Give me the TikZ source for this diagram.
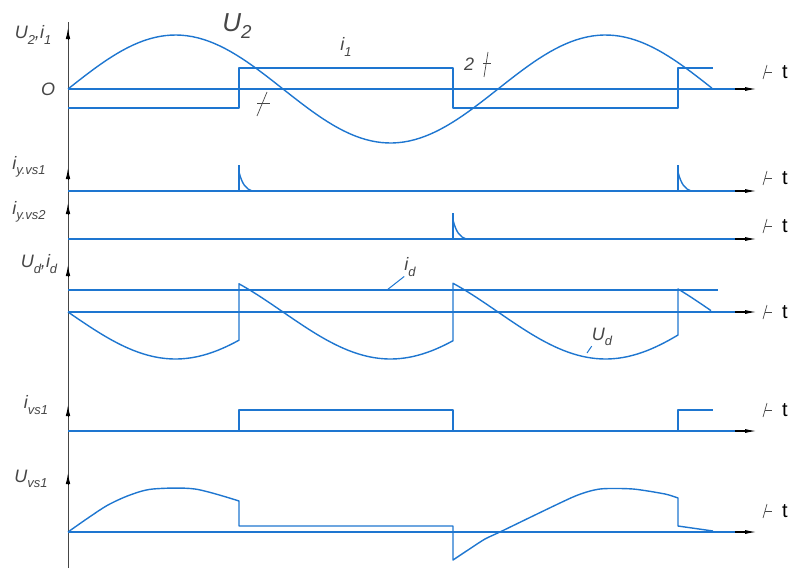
\documentclass[tikz,border=0pt]{standalone}
\usepackage{fontspec}
\setmainfont{Liberation Sans}
\usetikzlibrary{arrows.meta}

\definecolor{wave}{RGB}{30,118,208}
\definecolor{ink}{RGB}{70,70,70}

\tikzset{
	sig/.style={wave, line width=1.4pt, line join=round},
	axis/.style={ink, line width=1pt},
	lbl/.style={ink, font=\fontsize{18}{18}\selectfont\itshape, inner sep=0pt},
	tlbl/.style={black, font=\fontsize{20}{20}\selectfont, inner sep=0pt},
	glyph/.style={ink, line width=0.7pt},
	uptip/.style={-{Latex[length=11pt,width=4.5pt]}, black, line width=1pt},
	rtip/.style={-{Latex[length=12pt,width=4pt]}, black, line width=1.2pt}
}

% phase of the supply voltage at pixel column x (period 430)
\newcommand{\wsin}[1]{sin(0.837209*(#1-68))}
% lowered index in the label font
\newcommand{\lo}[1]{\raisebox{-0.3em}{\scalebox{0.72}{#1}}}

\begin{document}
\begin{tikzpicture}[x=1pt, y=-1pt]

	\useasboundingbox (0,0) rectangle (794,570);

	% Common vertical axis with one arrow per graph
	\draw[axis] (68,568) -- (68,22);
	\foreach \ya in {28,168,203,265,405,473}
		\draw[uptip] (68,\ya+12) -- (68,\ya);

	% Time axes
	\foreach \yb/\yt in {89/72, 191/178, 239/226, 312/312, 431/410, 532/511}{
		\draw[sig] (68,\yb) -- (735,\yb);
		\draw[rtip] (735,\yb) -- (757,\yb);
		\node[tlbl] (t\yb) at (785,\yt) {t};
		\draw[glyph] (763,\yt+7) -- (767,\yt-7);
		\draw[glyph] (765,\yt) -- (772,\yt);
	}

	% Supply voltage U2 and primary current i1
	\draw[sig] plot[domain=68:712, samples=120] (\x,{89-54*\wsin{\x}});
	\draw[sig] (68,108) -- (239,108) -- (239,68) -- (453,68) -- (453,108)
		-- (678,108) -- (678,68) -- (713,68);
	\node[lbl] (lblUi) at (33,35) {U\lo{2},i\lo{1}};
	\node[lbl] (lblzero) at (48,89) {O};
	\node[lbl, font=\fontsize{26}{26}\selectfont\itshape] (lblUtwo) at (237,26) {U\lo{2}};
	\node[lbl] (lblione) at (346,47) {i\lo{1}};
	\node[lbl] (lbltwo) at (469,64) {2};
	\draw[glyph] (257,116) -- (267,92);
	\draw[glyph] (257,103) -- (270,103);
	\draw[glyph] (484,77) -- (488,52);
	\draw[glyph] (483,63) -- (491,63);

	% Gate pulses
	\foreach \sx/\sb in {239/191, 678/191, 453/239}{
		\draw[sig] (\sx,\sb) -- (\sx,\sb-26);
		\draw[sig] (\sx,\sb-19) .. controls (\sx+3,\sb-7) and (\sx+7,\sb-2) .. (\sx+13,\sb);
	}
	\node[lbl] (lblgone) at (29,167) {i\lo{y.vs1}};
	\node[lbl] (lblgtwo) at (29,212) {i\lo{y.vs2}};

	% Rectified voltage Ud and load current id
	\draw[sig] (68,290) -- (718,290);
	\draw[sig] plot[domain=68:239, samples=40] (\x,{312+47*\wsin{\x}})
		-- plot[domain=239:453, samples=50] (\x,{312-47*\wsin{\x}})
		-- plot[domain=453:678, samples=50] (\x,{312+47*\wsin{\x}})
		-- plot[domain=678:711, samples=10] (\x,{312-47*\wsin{\x}});
	\node[lbl] (lblUdid) at (39,264) {U\lo{d},i\lo{d}};
	\node[lbl] (lblid) at (410,267) {i\lo{d}};
	\node[lbl] (lblUd) at (602,337) {U\lo{d}};
	\coordinate (onid) at (387,290);
	\coordinate (onUd) at (587,353);
	\draw[wave, line width=1pt] (onid) -- (lblid.south west);
	\draw[wave, line width=1pt] (onUd) -- (lblUd.south west);

	% Thyristor current
	\draw[sig] (239,431) -- (239,410) -- (453,410) -- (453,431);
	\draw[sig] (678,431) -- (678,410) -- (713,410);
	\node[lbl] (lblivs) at (36,405) {i\lo{vs1}};

	% Thyristor voltage
	\draw[sig] plot[smooth, tension=0.5] coordinates {
		(68,532)
		(88,518)
		(108,505)
		(130,495)
		(153,489)
		(195,489)
		(239,501)
	} -- (239,526) -- (453,526) -- (453,560)
	-- plot[smooth, tension=0.4] coordinates {
		(453,560)
		(468,550)
		(485,539)
		(502,531)
		(573,497)
		(600,489)
		(633,489)
		(665,494)
		(678,498)
	} -- (678,526) -- (713,531);
	\node[lbl] (lblUvs) at (31,479) {U\lo{vs1}};

\end{tikzpicture}
\end{document}
